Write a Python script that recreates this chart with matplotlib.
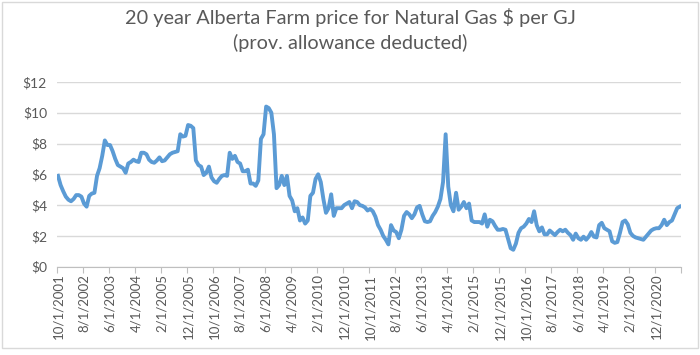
import numpy as np
import pandas as pd
import matplotlib
matplotlib.use('Agg')
import matplotlib.pyplot as plt
from matplotlib.patches import Rectangle

plt.rcParams['font.family'] = ['Lato', 'DejaVu Sans']

# monthly farm price ($/GJ), Oct 2001 .. Sep 2021
price_2001_2004 = [5.9, 5.3, 4.9, 4.55, 4.35, 4.25, 4.4, 4.65, 4.65, 4.55,
                   4.1, 3.9, 4.6, 4.75, 4.8, 5.9, 6.4, 7.2, 8.2, 7.9,
                   7.9, 7.5, 7.0, 6.6, 6.5, 6.4, 6.1, 6.7, 6.8, 6.95,
                   6.85, 6.8, 7.4, 7.4, 7.3, 6.95, 6.8, 6.75, 6.9, 7.1]
price_2005_2008 = [6.85, 6.9, 7.1, 7.3, 7.4, 7.45, 7.5, 8.6, 8.45, 8.5,
                   9.2, 9.15, 9.0, 6.9, 6.6, 6.5, 5.95, 6.1, 6.5, 5.8,
                   5.55, 5.45, 5.7, 5.9, 5.95, 5.9, 7.4, 7.0, 7.2, 6.8,
                   6.7, 6.2, 6.2, 6.3, 5.4, 5.4, 5.25, 5.6, 8.3, 8.6]
price_2008_2011 = [10.4, 10.3, 10.0, 8.6, 5.1, 5.3, 5.9, 5.3, 5.9, 4.6,
                   4.3, 3.6, 3.8, 3.0, 3.2, 2.8, 3.0, 4.6, 4.8, 5.7,
                   6.0, 5.5, 4.4, 3.5, 3.8, 4.7, 3.3, 3.8, 3.8, 3.8,
                   4.0, 4.1, 4.2, 3.8, 4.25, 4.2, 4.0, 3.95, 3.85, 3.65]
price_2011_2015 = [3.75, 3.6, 3.25, 2.7, 2.4, 2.0, 1.75, 1.45, 2.7, 2.35,
                   2.25, 1.85, 2.4, 3.3, 3.55, 3.4, 3.15, 3.4, 3.85, 3.95,
                   3.4, 2.95, 2.9, 2.95, 3.3, 3.55, 3.9, 4.4, 5.5, 8.6,
                   5.2, 4.0, 3.6, 4.8, 3.7, 3.9, 4.2, 3.8, 4.1, 3.0]
price_2015_2018 = [2.9, 2.9, 2.9, 2.8, 3.4, 2.6, 3.05, 2.95, 2.65, 2.4,
                   2.4, 2.45, 2.4, 1.8, 1.2, 1.1, 1.5, 2.2, 2.5, 2.6,
                   2.8, 3.1, 2.9, 3.6, 2.7, 2.3, 2.55, 2.1, 2.1, 2.35,
                   2.2, 2.05, 2.25, 2.4, 2.3, 2.4, 2.2, 2.05, 1.75, 2.15]
price_2018_2021 = [1.85, 1.75, 1.95, 1.75, 1.95, 2.25, 1.95, 1.9, 2.7, 2.85,
                   2.5, 2.4, 2.3, 1.65, 1.55, 1.6, 2.2, 2.9, 3.0, 2.75,
                   2.2, 2.0, 1.9, 1.85, 1.8, 1.75, 1.95, 2.15, 2.35, 2.45,
                   2.5, 2.5, 2.7, 3.05, 2.7, 2.9, 3.0, 3.4, 3.8, 3.9]

price = (price_2001_2004 + price_2005_2008 + price_2008_2011 +
         price_2011_2015 + price_2015_2018 + price_2018_2021)

months = pd.date_range('2001-10-01', periods=len(price), freq='MS')
label_step = 10
tick_labels = [f'{d.month}/1/{d.year}' for d in months[::label_step]]

txt = '#595959'
fig = plt.figure(figsize=(7, 3.55), dpi=100)
ax = fig.add_axes([0.081, 0.2487, 0.892, 0.5206])

x = np.arange(len(price))
ax.plot(x, price, color='#5b9bd5', lw=2.8, solid_joinstyle='round', zorder=3)

ax.set_xlim(-0.5, len(price) - 0.5)
ax.set_ylim(0, 12)
ax.set_yticks(range(0, 13, 2))
ax.set_yticklabels([f'${v}' for v in range(0, 13, 2)])
ax.set_xticks(x[::label_step])
ax.set_xticklabels(tick_labels, rotation=90)
ax.set_xticks(np.arange(-0.5, len(price), label_step), minor=True)

ax.tick_params(axis='y', length=0, pad=7, labelsize=10, labelcolor=txt)
ax.tick_params(axis='x', which='major', length=0, pad=5, labelsize=9.5, labelcolor=txt)
ax.tick_params(axis='x', which='minor', length=4, color='#bfbfbf', width=0.8)

ax.grid(axis='y', color='#d9d9d9', lw=1, zorder=0)
for s in ['top', 'right', 'left']:
    ax.spines[s].set_visible(False)
ax.spines['bottom'].set_color('#bfbfbf')

fig.text(0.5, 0.952, '20 year Alberta Farm price for Natural Gas $ per GJ',
         ha='center', va='center', fontsize=14.3, color=txt)
fig.text(0.5, 0.88, '(prov. allowance deducted)',
         ha='center', va='center', fontsize=14.3, color=txt)

# chart border
fig.patches.append(Rectangle((0.003, 0.02), 0.994, 0.975, transform=fig.transFigure,
                             fill=False, edgecolor='#d9d9d9', lw=1))

fig.savefig('out.png', dpi=100)
